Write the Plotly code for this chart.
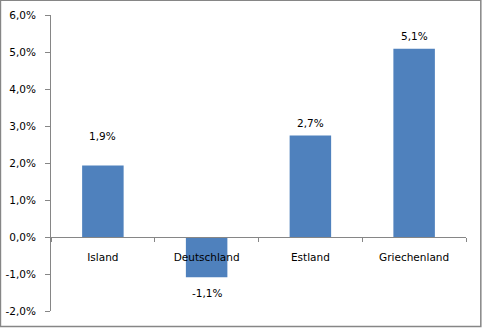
import plotly.graph_objects as go

categories = ["Island", "Deutschland", "Estland", "Griechenland"]
values = [0.0193, -0.0109, 0.0274, 0.0509]
value_labels = ["1,9%", "-1,1%", "2,7%", "5,1%"]
label_shifts = [30, -16, 13, 13]
ytick_vals = [-0.02, -0.01, 0.0, 0.01, 0.02, 0.03, 0.04, 0.05, 0.06]
ytick_text = ["-2,0%", "-1,0%", "0,0%", "1,0%", "2,0%", "3,0%", "4,0%", "5,0%", "6,0%"]

font_family = "DejaVu Sans"
axis_color = "#868686"

fig = go.Figure()
fig.add_trace(go.Bar(x=categories, y=values, width=0.4, marker_color="#4F81BD",
                     marker_line_width=0, hoverinfo="skip"))

for c, v, t, s in zip(categories, values, value_labels, label_shifts):
    fig.add_annotation(x=c, y=v, text=t, showarrow=False, yshift=s,
                       font=dict(family=font_family, size=10.5, color="#000000"))

fig.add_shape(type="rect", xref="paper", yref="paper",
              x0=-0.1218, x1=1.0357, y0=-0.0524, y1=1.050,
              line=dict(color="#868686", width=1.5), fillcolor="rgba(0,0,0,0)")

fig.update_layout(
    width=482, height=328,
    margin=dict(l=51, r=16, t=15, b=17),
    paper_bgcolor="white", plot_bgcolor="white",
    showlegend=False,
    font=dict(family=font_family, size=10.5, color="#000000"),
    xaxis=dict(anchor="free", position=0.25, showline=True, linecolor=axis_color,
               linewidth=1, ticks="outside", ticklen=4, tickcolor=axis_color,
               tickson="boundaries", showgrid=False, zeroline=False, automargin=False,
               ticklabelstandoff=10, range=[-0.5, 3.5]),
    yaxis=dict(range=[-0.02, 0.06], tickvals=ytick_vals, ticktext=ytick_text,
               showline=True, linecolor=axis_color, linewidth=1, automargin=False,
               ticks="outside", ticklen=5, tickcolor=axis_color,
               showgrid=False, zeroline=False, ticklabelstandoff=7),
)

fig.write_html("out.html")
